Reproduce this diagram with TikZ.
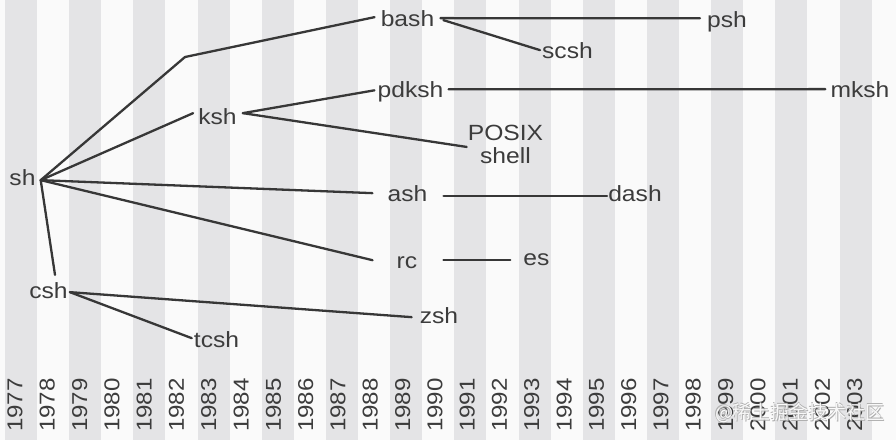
\documentclass[tikz,border=0pt]{standalone}
\usepackage{fontspec}
\setmainfont[FakeStretch=1.12]{Liberation Sans}
\newfontfamily\cjkwm{Noto Sans CJK SC}
\usetikzlibrary{calc}
\definecolor{bandgray}{RGB}{228,228,230}
\definecolor{bgwhite}{RGB}{250,250,250}
\definecolor{ink}{RGB}{55,55,55}
\definecolor{txt}{RGB}{60,60,60}
\definecolor{wmgray}{RGB}{175,175,175}
\begin{document}
\begin{tikzpicture}[x=1pt,y=-1pt,
  lbl/.style={anchor=base, inner sep=0pt, text=txt, font=\fontsize{22}{23}\selectfont},
  yr/.style={rotate=90, inner sep=0pt, text=txt, font=\fontsize{21.5}{24}\selectfont},
  link/.style={draw=ink, line width=2.3pt, line cap=round, line join=round},
  wm/.style={inner sep=0pt, font=\cjkwm\fontsize{19}{20}\selectfont}]
\useasboundingbox (0,0) rectangle (896,440);
\fill[bgwhite] (0,0) rectangle (896,440);
\foreach \i in {0,2,...,26} \fill[bandgray] ({5+32.1*\i},0) rectangle ({37+32.1*\i},440);
\foreach \y [count=\i from 0] in {1977,...,2003} \node[yr] (y\y) at ({15+32.3*\i},405) {\y};

% shell nodes
\node[lbl] (sh) at (22.5,185) {sh};
\node[lbl] (csh) at (48.5,298) {csh};
\node[lbl] (tcsh) at (216.5,347) {tcsh};
\node[lbl] (zsh) at (439,323) {zsh};
\node[lbl] (rc) at (407,268) {rc};
\node[lbl] (es) at (536.5,265) {es};
\node[lbl] (ash) at (407.5,201) {ash};
\node[lbl] (dash) at (635,201) {dash};
\node[lbl] (ksh) at (217.5,124) {ksh};
\node[lbl] (pdksh) at (410.5,97) {pdksh};
\node[lbl] (mksh) at (860,97) {mksh};
\node[lbl, align=center] (posix) at (505.5,163) {POSIX\\shell};
\node[lbl] (bash) at (407.5,26) {bash};
\node[lbl] (scsh) at (567.5,58) {scsh};
\node[lbl] (psh) at (727,27) {psh};

% hubs
\coordinate (shhub) at ($(sh.east)+(5,3)$);
\coordinate (cshhub) at ($(csh.east)+(2,2)$);
\coordinate (kshhub) at ($(ksh.east)+(6,-3)$);
\coordinate (bend) at (185,57);

% connectors
\draw[link] (shhub) -- (bend) -- ($(bash.west)+(-6,-1)$);
\draw[link] (shhub) -- ($(ksh.west)+(-5,-3)$);
\draw[link] (shhub) -- ($(ash.west)+(-15,0)$);
\draw[link] (shhub) -- ($(rc.west)+(-24,-2)$);
\draw[link] (shhub) -- ($(csh.north)+(6.5,-7)$);
\draw[link] (cshhub) -- ($(zsh.west)+(-8,2)$);
\draw[link] (cshhub) -- ($(tcsh.west)+(-2,-1)$);
\draw[link] (kshhub) -- ($(pdksh.west)+(-3,-1)$);
\draw[link] (kshhub) -- ($(posix.west)+(-1,3)$);
\draw[link] ($(pdksh.east)+(5,-2)$) -- ($(mksh.west)+(-5,0)$);
\draw[link] ($(ash.east)+(16,3)$) -- ($(dash.west)+(-1,3)$);
\draw[link] ($(rc.east)+(26,-2)$) -- ($(es.west)+(-13,1)$);
\draw[link] ($(bash.east)+(6,0)$) -- ($(psh.west)+(-7,-3)$);
\draw[link] ($(bash.east)+(9,2)$) -- ($(scsh.west)+(-2,0)$);

% watermark
\node[wm, text=wmgray] (wma) at (800.8,413.8) {@稀土掘金技术社区};
\node[wm, text=wmgray] (wmb) at (799.2,412.2) {@稀土掘金技术社区};
\node[wm, text=white, opacity=0.9] (wmc) at (800,413) {@稀土掘金技术社区};
\end{tikzpicture}
\end{document}
